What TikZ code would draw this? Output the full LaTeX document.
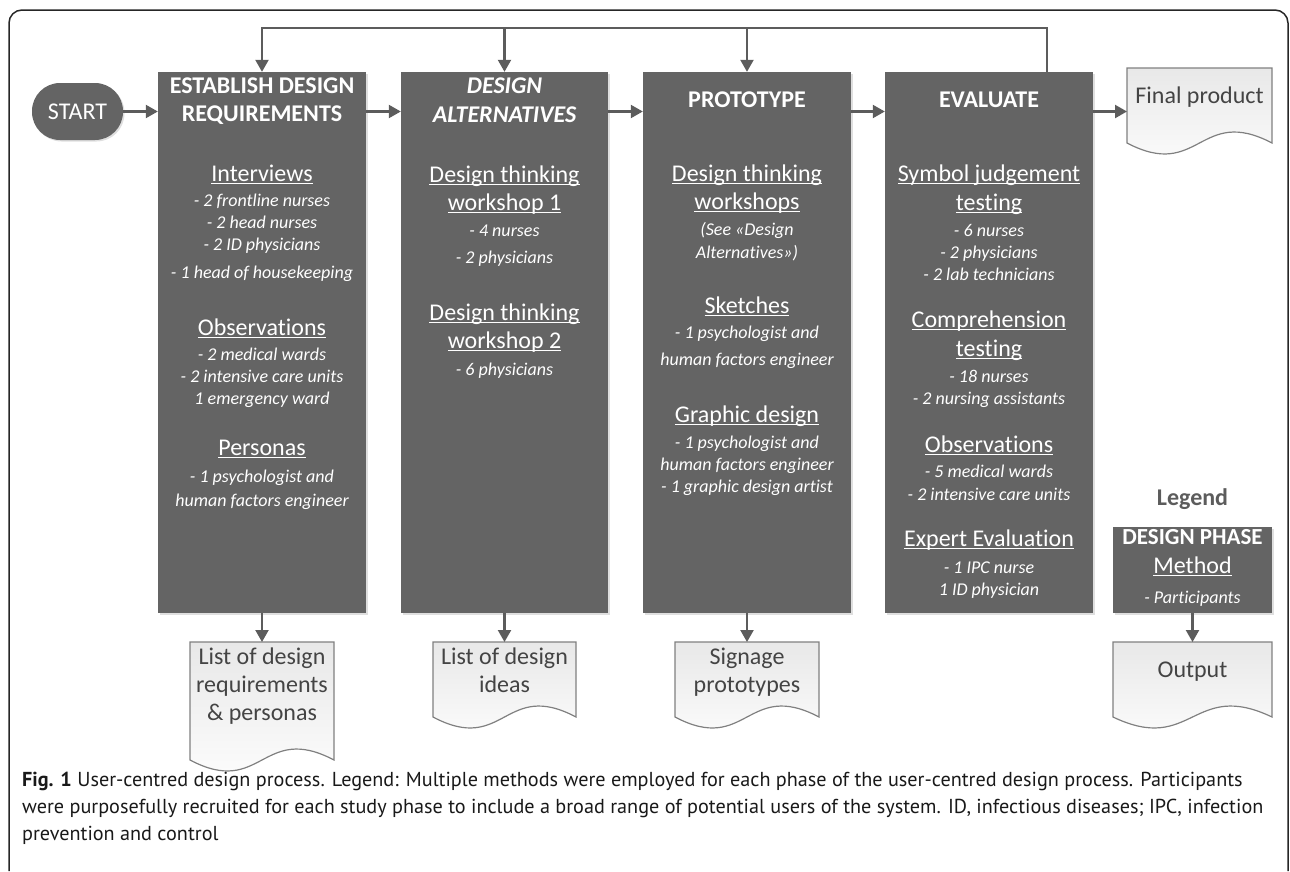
\documentclass[tikz,border=0pt]{standalone}
\usepackage{fontspec}
\setmainfont{Carlito}[Ligatures={NoCommon,NoContextual,NoRare}]
\newfontfamily\capfont{PT Sans}
\usetikzlibrary{arrows.meta,shadows}
\definecolor{phase}{HTML}{646464}
\definecolor{flow}{HTML}{5C5C5C}
\definecolor{docedge}{HTML}{808080}
\definecolor{doctext}{HTML}{444444}

% underline at a fixed depth, like a word processor
\newsavebox{\ulbox}
\newcommand{\uline}[1]{\sbox{\ulbox}{#1}\rlap{\rule[-2.6pt]{\wd\ulbox}{1.3pt}}\usebox{\ulbox}}

% bottom-waved document shape: name, left, top, right, bottom
\newcommand{\docshape}[5]{%
  \path[docbody] (#2,#3) -- (#4,#3) -- (#4,#5)
    .. controls ({(#2+#4)/2},{#5-38}) and ({(#2+#4)/2},{#5+38}) .. (#2,#5) -- cycle;
  \coordinate (#1) at ({(#2+#4)/2},#3);
}

\begin{document}
\begin{tikzpicture}[x=1pt,y=-1pt,
    phasebox/.style={fill=phase, inner sep=0,
      drop shadow={shadow xshift=1.5pt, shadow yshift=-1.5pt, opacity=0.25}},
    phasehead/.style={text=white, inner sep=0, text height=0.72em, text depth=0.08em,
      font=\fontsize{24}{29}\selectfont\bfseries},
    methodhead/.style={text=white, inner sep=0, text height=0.72em, text depth=0.08em,
      font=\fontsize{24}{29}\selectfont},
    participant/.style={text=white, inner sep=0, text height=0.72em, text depth=0.08em,
      font=\fontsize{18}{22}\selectfont\itshape},
    doctxt/.style={text=doctext, inner sep=0, text height=0.72em, text depth=0.08em,
      font=\fontsize{24}{29}\selectfont},
    docbody/.style={draw=docedge, line width=1.2pt, top color=black!9, bottom color=white},
    flowarrow/.style={draw=flow, line width=2.2pt,
      -{Triangle[length=12pt,width=13pt]}},
    captext/.style={anchor=west, inner sep=0, text=black!90,
      font=\capfont\fontsize{20.2}{27}\selectfont}
  ]
  \useasboundingbox (0,0) rectangle (1290,871);
  \draw[line width=1.5pt, color=black!85, rounded corners=13]
    (9,871) -- (9,10) -- (1288,10) -- (1288,871);

  % phases
  \node[phasebox, rounded corners=28, minimum width=91, minimum height=57,
    text=white, font=\fontsize{24}{29}\selectfont] (start) at (77.5,111.5) {START};
  \node[phasebox, minimum width=208, minimum height=541] (req) at (262,342.5) {};
  \node[phasebox, minimum width=207, minimum height=541] (alt) at (504.5,342.5) {};
  \node[phasebox, minimum width=208, minimum height=541] (proto) at (747,342.5) {};
  \node[phasebox, minimum width=208, minimum height=541] (eval) at (989,342.5) {};

  % establish design requirements
  \node[phasehead] (reqH1) at (262,90) {ESTABLISH DESIGN};
  \node[phasehead] (reqH2) at (262,118) {REQUIREMENTS};
  \node[methodhead] (reqM1) at (262,178) {\uline{Interviews}};
  \node[participant] (reqP1) at (262,203) {- 2 frontline nurses};
  \node[participant] (reqP2) at (262,225) {- 2 head nurses};
  \node[participant] (reqP3) at (262,247) {- 2 ID physicians};
  \node[participant] (reqP4) at (262,275) {- 1 head of housekeeping};
  \node[methodhead] (reqM2) at (262,332) {\uline{Observations}};
  \node[participant] (reqP5) at (262,357) {- 2 medical wards};
  \node[participant] (reqP6) at (262,379) {- 2 intensive care units};
  \node[participant] (reqP7) at (262,401) {1 emergency ward};
  \node[methodhead] (reqM3) at (262,452) {\uline{Personas}};
  \node[participant] (reqP8) at (262,479) {- 1 psychologist and};
  \node[participant] (reqP9) at (262,503) {human factors engineer};

  % design alternatives
  \node[phasehead, font=\fontsize{24}{29}\selectfont\bfseries\itshape] (altH1) at (504.5,90) {DESIGN};
  \node[phasehead, font=\fontsize{24}{29}\selectfont\bfseries\itshape] (altH2) at (504.5,119) {ALTERNATIVES};
  \node[methodhead] (altM1) at (504.5,179) {\uline{Design thinking}};
  \node[methodhead] (altM1b) at (504.5,207) {\uline{workshop 1}};
  \node[participant] (altP1) at (504.5,233) {- 4 nurses};
  \node[participant] (altP2) at (504.5,260) {- 2 physicians};
  \node[methodhead] (altM2) at (504.5,317) {\uline{Design thinking}};
  \node[methodhead] (altM2b) at (504.5,345) {\uline{workshop 2}};
  \node[participant] (altP3) at (504.5,372) {- 6 physicians};

  % prototype
  \node[phasehead] (protoH) at (747,104) {PROTOTYPE};
  \node[methodhead] (protoM1) at (747,178) {\uline{Design thinking}};
  \node[methodhead] (protoM1b) at (747,206) {\uline{workshops}};
  \node[participant] (protoP1) at (747,232) {(See «Design};
  \node[participant] (protoP2) at (747,255) {Alternatives»)};
  \node[methodhead] (protoM2) at (747,310) {\uline{Sketches}};
  \node[participant] (protoP3) at (747,335) {- 1 psychologist and};
  \node[participant] (protoP4) at (747,362) {human factors engineer};
  \node[methodhead] (protoM3) at (747,419) {\uline{Graphic design}};
  \node[participant] (protoP5) at (747,445) {- 1 psychologist and};
  \node[participant] (protoP6) at (747,467) {human factors engineer};
  \node[participant] (protoP7) at (747,489) {- 1 graphic design artist};

  % evaluate
  \node[phasehead] (evalH) at (989,104) {EVALUATE};
  \node[methodhead] (evalM1) at (989,178) {\uline{Symbol judgement}};
  \node[methodhead] (evalM1b) at (989,207) {\uline{testing}};
  \node[participant] (evalP1) at (989,233) {- 6 nurses};
  \node[participant] (evalP2) at (989,255) {- 2 physicians};
  \node[participant] (evalP3) at (989,277) {- 2 lab technicians};
  \node[methodhead] (evalM2) at (989,324) {\uline{Comprehension}};
  \node[methodhead] (evalM2b) at (989,353) {\uline{testing}};
  \node[participant] (evalP4) at (989,379) {- 18 nurses};
  \node[participant] (evalP5) at (989,401) {- 2 nursing assistants};
  \node[methodhead] (evalM3) at (989,449) {\uline{Observations}};
  \node[participant] (evalP6) at (989,474) {- 5 medical wards};
  \node[participant] (evalP7) at (989,497) {- 2 intensive care units};
  \node[methodhead] (evalM4) at (989,543) {\uline{Expert Evaluation}};
  \node[participant] (evalP8) at (989,570) {- 1 IPC nurse};
  \node[participant] (evalP9) at (989,592) {1 ID physician};

  % outputs
  \docshape{finaldoc}{1127}{68}{1272}{143}
  \node[doctxt] (final) at (1199.5,100) {Final product};
  \docshape{reqdoc}{190}{642}{334}{760}
  \node[doctxt] (reqout1) at (262,661) {List of design};
  \node[doctxt] (reqout2) at (262,689) {requirements};
  \node[doctxt] (reqout3) at (262,717) {\& personas};
  \docshape{altdoc}{433}{642}{576}{717}
  \node[doctxt] (altout1) at (504.5,661) {List of design};
  \node[doctxt] (altout2) at (504.5,689) {ideas};
  \docshape{protodoc}{675}{642}{819}{717}
  \node[doctxt] (protoout1) at (747,661) {Signage};
  \node[doctxt] (protoout2) at (747,689) {prototypes};

  % legend
  \node[phasehead, text=flow] (legend) at (1192.5,502) {Legend};
  \node[phasebox, minimum width=159, minimum height=86] (legbox) at (1192.5,570) {};
  \node[phasehead, font=\fontsize{23}{28}\selectfont\bfseries] (legH) at (1192.5,541) {DESIGN PHASE};
  \node[methodhead] (legM) at (1192.5,570) {\uline{Method}};
  \node[participant] (legP) at (1192.5,600) {- Participants};
  \docshape{legdoc}{1113}{642}{1272}{717}
  \node[doctxt] (legout) at (1192.5,674) {Output};

  % flow
  \coordinate (loop) at (1047,28);
  \draw[flowarrow] (start.east) -- (start.east -| req.west);
  \draw[flowarrow] (req.east |- start.east) -- (alt.west |- start.east);
  \draw[flowarrow] (alt.east |- start.east) -- (proto.west |- start.east);
  \draw[flowarrow] (proto.east |- start.east) -- (eval.west |- start.east);
  \draw[flowarrow] (eval.east |- start.east) -- (1127,111.5);
  \draw[flowarrow] (eval.north -| loop) -- (loop) -| (req.north);
  \draw[flowarrow] (alt.north |- loop) -- (alt.north);
  \draw[flowarrow] (proto.north |- loop) -- (proto.north);
  \draw[flowarrow] (req.south) -- (reqdoc);
  \draw[flowarrow] (alt.south) -- (altdoc);
  \draw[flowarrow] (proto.south) -- (protodoc);
  \draw[flowarrow] (legbox.south) -- (legdoc);

  % caption
  \node[captext] (cap1) at (22,781) {\textbf{Fig. 1} User-centred design process. Legend: Multiple methods were employed for each phase of the user-centred design process. Participants};
  \node[captext] (cap2) at (22,808) {were purposefully recruited for each study phase to include a broad range of potential users of the system. ID, infectious diseases; IPC, infection};
  \node[captext] (cap3) at (22,835) {prevention and control};
\end{tikzpicture}
\end{document}
